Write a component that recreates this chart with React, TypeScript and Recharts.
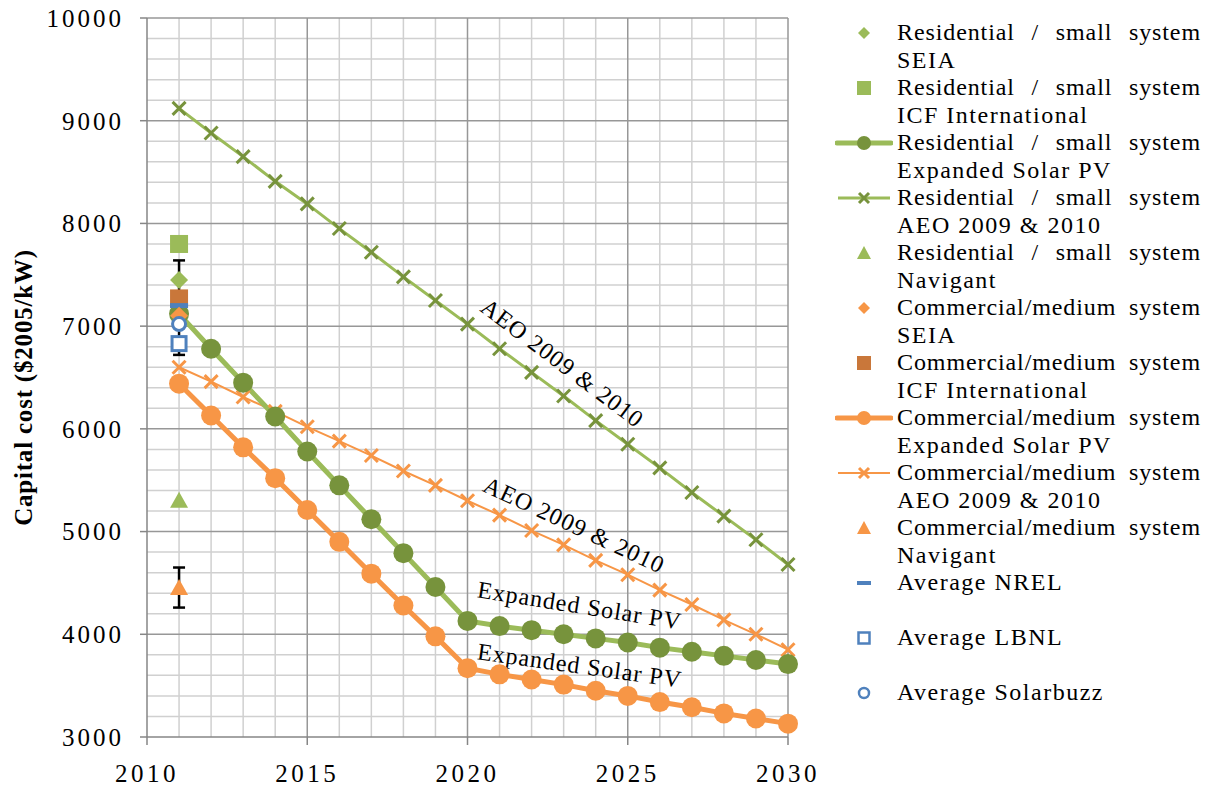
import React from 'react';
import {
  ComposedChart, Line, XAxis, YAxis, ReferenceLine, ReferenceDot, ErrorBar, Label,
} from 'recharts';

// ---------- data ----------
const years = [2011, 2012, 2013, 2014, 2015, 2016, 2017, 2018, 2019, 2020, 2021, 2022, 2023, 2024, 2025, 2026, 2027, 2028, 2029, 2030];
const resExpanded = [7120, 6780, 6450, 6120, 5780, 5450, 5120, 4790, 4460, 4130, 4080, 4040, 4000, 3960, 3920, 3870, 3830, 3790, 3750, 3710];
const resAEO = [9120, 8880, 8650, 8410, 8190, 7950, 7720, 7480, 7250, 7020, 6780, 6550, 6320, 6080, 5850, 5620, 5380, 5150, 4920, 4680];
const comExpanded = [6440, 6130, 5820, 5520, 5210, 4900, 4590, 4280, 3980, 3670, 3610, 3560, 3510, 3450, 3400, 3340, 3290, 3230, 3180, 3130];
const comAEO = [6600, 6460, 6310, 6170, 6020, 5880, 5740, 5590, 5450, 5300, 5160, 5010, 4870, 4720, 4580, 4430, 4290, 4140, 4000, 3850];

const pointYear = 2011;
const resSEIA = 7450;
const resICF = 7800;
const resNavigant = 5300;
const comSEIA = 7100;
const comICF = 7270;
const comNavigant = 4450;
const comNavigantErr = [190, 200];
const avgNREL = 7200;
const avgNRELErr = [480, 440];
const avgLBNL = 6830;
const avgSolarbuzz = 7020;

const xTicks = [2010, 2015, 2020, 2025, 2030];
const yTicks = [3000, 4000, 5000, 6000, 7000, 8000, 9000, 10000];

const annotations = [
  { text: 'AEO 2009 & 2010', x: 2022.96, y: 6640, angle: 37 },
  { text: 'AEO 2009 & 2010', x: 2023.33, y: 5063, angle: 25 },
  { text: 'Expanded Solar PV', x: 2023.5, y: 4280, angle: 9 },
  { text: 'Expanded Solar PV', x: 2023.5, y: 3695, angle: 8 },
];

const legendLine1 = [
  'Residential / small system', 'Residential / small system', 'Residential / small system',
  'Residential / small system', 'Residential / small system',
  'Commercial/medium system', 'Commercial/medium system', 'Commercial/medium system',
  'Commercial/medium system', 'Commercial/medium system',
  'Average NREL', 'Average LBNL', 'Average Solarbuzz',
];
const legendLine2 = [
  'SEIA', 'ICF International', 'Expanded Solar PV', 'AEO 2009 & 2010', 'Navigant',
  'SEIA', 'ICF International', 'Expanded Solar PV', 'AEO 2009 & 2010', 'Navigant',
  '', '', '',
];

// ---------- style ----------
const GREEN = '#9BBB59';
const DGREEN = '#77933C';
const ORANGE = '#F79646';
const BROWN = '#C9773A';
const BLUE = '#4F81BD';
const FONT = '"Liberation Serif", "Times New Roman", serif';

const toPts = (vals: number[]) => vals.map((v, i) => ({ x: years[i], y: v }));
const single = (v: number, err?: number[]) => [{ x: pointYear, y: v, err }];

// ---------- marker shapes ----------
const diamond = (color: string) => (p: any) => (
  <polygon key={`d${p.index}`} points={`${p.cx},${p.cy - 9} ${p.cx + 9},${p.cy} ${p.cx},${p.cy + 9} ${p.cx - 9},${p.cy}`} fill={color} />
);
const square = (color: string) => (p: any) => (
  <rect key={`s${p.index}`} x={p.cx - 9} y={p.cy - 9} width={18} height={18} fill={color} />
);
const triangle = (color: string) => (p: any) => (
  <polygon key={`t${p.index}`} points={`${p.cx},${p.cy - 9} ${p.cx + 9},${p.cy + 7} ${p.cx - 9},${p.cy + 7}`} fill={color} />
);
const openSquare = (p: any) => (
  <rect key={`os${p.index}`} x={p.cx - 7} y={p.cy - 7} width={14} height={14} fill="#fff" stroke={BLUE} strokeWidth={3} />
);
const openCircle = (p: any) => (
  <circle key={`oc${p.index}`} cx={p.cx} cy={p.cy} r={6.5} fill="#fff" stroke={BLUE} strokeWidth={3} />
);
const dash = (p: any) => (
  <rect key={`da${p.index}`} x={p.cx - 9} y={p.cy - 2.5} width={18} height={5} fill={BLUE} />
);
const invisible = (p: any) => <g key={`i${p.index}`} />;

const circleDot = (color: string) => (p: any) => (
  <circle key={`c${p.index}`} cx={p.cx} cy={p.cy} r={10} fill={color} stroke="none" />
);
const xDot = (color: string, h: number) => (p: any) => (
  <g key={`x${p.index}`}>
    <line x1={p.cx - h} y1={p.cy - h} x2={p.cx + h} y2={p.cy + h} stroke={color} strokeWidth={3} />
    <line x1={p.cx - h} y1={p.cy + h} x2={p.cx + h} y2={p.cy - h} stroke={color} strokeWidth={3} />
  </g>
);

// ---------- legend icons ----------
type IconKind = 'diamond' | 'square' | 'lineCircle' | 'lineX' | 'triangle' | 'dash' | 'openSquare' | 'openCircle';
const legendIcons: { kind: IconKind; color: string; fill?: string; lw?: number }[] = [
  { kind: 'diamond', color: GREEN },
  { kind: 'square', color: GREEN },
  { kind: 'lineCircle', color: GREEN, fill: DGREEN },
  { kind: 'lineX', color: GREEN, fill: DGREEN, lw: 3 },
  { kind: 'triangle', color: GREEN },
  { kind: 'diamond', color: ORANGE },
  { kind: 'square', color: BROWN },
  { kind: 'lineCircle', color: ORANGE, fill: ORANGE },
  { kind: 'lineX', color: ORANGE, fill: ORANGE, lw: 2 },
  { kind: 'triangle', color: ORANGE },
  { kind: 'dash', color: BLUE },
  { kind: 'openSquare', color: BLUE },
  { kind: 'openCircle', color: BLUE },
];

const LegendIcon = ({ kind, color, fill, lw }: { kind: IconKind; color: string; fill?: string; lw?: number }) => {
  const cx = 29;
  const cy = 14;
  let el: React.ReactNode = null;
  if (kind === 'diamond') el = <polygon points={`${cx},${cy - 6} ${cx + 6},${cy} ${cx},${cy + 6} ${cx - 6},${cy}`} fill={color} />;
  if (kind === 'square') el = <rect x={cx - 7} y={cy - 7} width={14} height={14} fill={color} />;
  if (kind === 'triangle') el = <polygon points={`${cx},${cy - 7} ${cx + 7},${cy + 6} ${cx - 7},${cy + 6}`} fill={color} />;
  if (kind === 'dash') el = <rect x={cx - 7} y={cy - 2} width={14} height={4} fill={color} />;
  if (kind === 'openSquare') el = <rect x={cx - 5.5} y={cy - 5.5} width={11} height={11} fill="#fff" stroke={color} strokeWidth={2.5} />;
  if (kind === 'openCircle') el = <circle cx={cx} cy={cy} r={5} fill="#fff" stroke={color} strokeWidth={2.5} />;
  if (kind === 'lineCircle')
    el = (
      <g>
        <line x1={2} y1={cy} x2={56} y2={cy} stroke={color} strokeWidth={5} strokeLinecap="round" />
        <circle cx={cx} cy={cy} r={7} fill={fill} />
      </g>
    );
  if (kind === 'lineX')
    el = (
      <g>
        <line x1={3} y1={cy} x2={55} y2={cy} stroke={color} strokeWidth={lw} />
        <line x1={cx - 5} y1={cy - 5} x2={cx + 5} y2={cy + 5} stroke={fill} strokeWidth={3} />
        <line x1={cx - 5} y1={cy + 5} x2={cx + 5} y2={cy - 5} stroke={fill} strokeWidth={3} />
      </g>
    );
  return (
    <svg width={58} height={28} style={{ display: 'block' }}>
      {el}
    </svg>
  );
};

const ChartLegend = () => (
  <div style={{ position: 'absolute', left: 835, top: 19, width: 375, fontFamily: FONT, fontSize: 24, color: '#000' }}>
    {legendLine1.map((l1, i) => (
      <div key={i} style={{ display: 'flex', height: 55 }}>
        <div style={{ width: 62, height: 27.5, display: 'flex', alignItems: 'center' }}>
          <LegendIcon {...legendIcons[i]} />
        </div>
        <div style={{ width: 304 }}>
          <div
            style={{
              height: 27.5, lineHeight: '27.5px', whiteSpace: 'nowrap', letterSpacing: i < 10 ? 0.9 : 1.5,
              textAlign: i < 10 ? 'justify' : 'left', textAlignLast: i < 10 ? 'justify' : 'left',
            } as React.CSSProperties}
          >
            {l1}
          </div>
          <div style={{ height: 27.5, lineHeight: '27.5px', whiteSpace: 'nowrap', letterSpacing: 1.5 }}>{legendLine2[i]}</div>
        </div>
      </div>
    ))}
  </div>
);

// ---------- labels ----------
const renderAnnotation = (text: string, angle: number) => (props: any) => {
  const vb = props.viewBox || {};
  const x = vb.x + (vb.width || 0) / 2;
  const y = vb.y + (vb.height || 0) / 2;
  return (
    <text
      x={x}
      y={y}
      textAnchor="middle"
      dominantBaseline="central"
      transform={`rotate(${angle}, ${x}, ${y})`}
      fontFamily={FONT}
      fontSize={24}
      letterSpacing={1}
      fill="#000"
    >
      {text}
    </text>
  );
};

const renderYLabel = (props: any) => {
  const vb = props.viewBox || { y: 18, height: 719 };
  const x = 23;
  const y = vb.y + vb.height / 2 + 10;
  return (
    <text
      x={x}
      y={y}
      textAnchor="middle"
      dominantBaseline="central"
      transform={`rotate(-90, ${x}, ${y})`}
      fontFamily={FONT}
      fontSize={25}
      fontWeight="bold"
      letterSpacing={0.8}
      fill="#000"
    >
      Capital cost ($2005/kW)
    </text>
  );
};

// grid values (axis gridlines)
const minorH: number[] = [];
const majorH: number[] = [];
for (let v = 3200; v <= 10000; v += 200) {
  if (v % 1000 === 0) majorH.push(v);
  else minorH.push(v);
}
const minorV: number[] = [];
const majorV: number[] = [];
for (let yv = 2011; yv <= 2030; yv += 1) {
  if (yv % 5 === 0) majorV.push(yv);
  else minorV.push(yv);
}

const yTickStyle = { fontFamily: FONT, fontSize: 25, fill: '#000', letterSpacing: 3 };
const xTickStyle = { fontFamily: FONT, fontSize: 25, fill: '#000', letterSpacing: 3.5 };

const pointSeries: { key: string; data: any[]; dot: any; err?: boolean }[] = [
  { key: 'nrelErr', data: single(avgNREL, avgNRELErr), dot: invisible, err: true },
  { key: 'resICF', data: single(resICF), dot: square(GREEN) },
  { key: 'resSEIA', data: single(resSEIA), dot: diamond(GREEN) },
  { key: 'resNav', data: single(resNavigant), dot: triangle(GREEN) },
  { key: 'comICF', data: single(comICF), dot: square(BROWN) },
  { key: 'nrel', data: single(avgNREL), dot: dash },
  { key: 'comSEIA', data: single(comSEIA), dot: diamond(ORANGE) },
  { key: 'sbuzz', data: single(avgSolarbuzz), dot: openCircle },
  { key: 'lbnl', data: single(avgLBNL), dot: openSquare },
  { key: 'comNav', data: single(comNavigant, comNavigantErr), dot: triangle(ORANGE), err: true },
];

export default function App() {
  return (
    <div style={{ position: 'absolute', left: 0, top: 0, width: 1212, height: 790, background: '#fff', overflow: 'hidden' }}>
      <ComposedChart width={1212} height={790} margin={{ top: 18, right: 424, bottom: 0, left: 0 }}>
        <XAxis
          type="number"
          dataKey="x"
          domain={[2010, 2030]}
          ticks={xTicks}
          interval={0}
          height={53}
          tickSize={8}
          tickMargin={19}
          tick={xTickStyle}
          axisLine={{ stroke: '#868686', strokeWidth: 1.5 }}
          tickLine={{ stroke: '#868686', strokeWidth: 1.5 }}
        />
        <YAxis
          type="number"
          dataKey="y"
          domain={[3000, 10000]}
          ticks={yTicks}
          interval={0}
          width={147}
          tickSize={7}
          tickMargin={16}
          tick={yTickStyle}
          axisLine={{ stroke: '#868686', strokeWidth: 1.5 }}
          tickLine={{ stroke: '#868686', strokeWidth: 1.5 }}
        >
          <Label content={renderYLabel} />
        </YAxis>

        {minorH.map((v) => (
          <ReferenceLine key={`mh${v}`} y={v} stroke="#D0D0D0" strokeWidth={1.5} />
        ))}
        {minorV.map((v) => (
          <ReferenceLine key={`mv${v}`} x={v} stroke="#D0D0D0" strokeWidth={1.5} />
        ))}
        {majorH.map((v) => (
          <ReferenceLine key={`Mh${v}`} y={v} stroke="#979797" strokeWidth={1.5} />
        ))}
        {majorV.map((v) => (
          <ReferenceLine key={`Mv${v}`} x={v} stroke="#979797" strokeWidth={1.5} />
        ))}

        <Line data={toPts(resAEO)} dataKey="y" stroke={GREEN} strokeWidth={3} dot={xDot(DGREEN, 6.5)} activeDot={false} isAnimationActive={false} />
        <Line data={toPts(comAEO)} dataKey="y" stroke={ORANGE} strokeWidth={2} dot={xDot(ORANGE, 6.5)} activeDot={false} isAnimationActive={false} />
        <Line data={toPts(resExpanded)} dataKey="y" stroke={GREEN} strokeWidth={5} dot={circleDot(DGREEN)} activeDot={false} isAnimationActive={false} />
        <Line data={toPts(comExpanded)} dataKey="y" stroke={ORANGE} strokeWidth={5} dot={circleDot(ORANGE)} activeDot={false} isAnimationActive={false} />

        {pointSeries.map((s) => (
          <Line key={s.key} data={s.data} dataKey="y" stroke="none" dot={s.dot} activeDot={false} isAnimationActive={false}>
            {s.err ? <ErrorBar dataKey="err" direction="y" width={6} stroke="#000" strokeWidth={2.5} /> : null}
          </Line>
        ))}

        {annotations.map((a, i) => (
          <ReferenceDot
            key={`an${i}`}
            x={a.x}
            y={a.y}
            r={1}
            fill="none"
            stroke="none"
            label={<Label content={renderAnnotation(a.text, a.angle)} />}
          />
        ))}
      </ComposedChart>
      <ChartLegend />
    </div>
  );
}
